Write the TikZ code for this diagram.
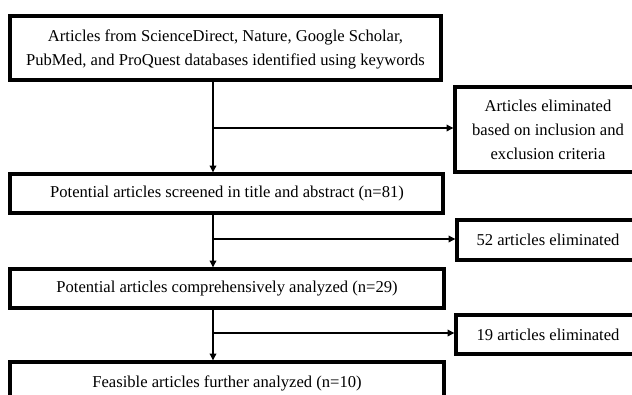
\documentclass[tikz,border=0pt]{standalone}
\usepackage{fontspec}
\setmainfont{Liberation Serif}
\usetikzlibrary{arrows.meta}
\begin{document}
\begin{tikzpicture}[x=1pt,y=-1pt,
  boxstyle/.style={draw=black,line width=3.2pt,fill=white},
  txt/.style={font=\fontsize{16.6}{24}\selectfont,align=center,inner sep=0pt},
  conn/.style={draw=black,line width=1.8pt},
  arr/.style={conn,-{Triangle[length=7pt,width=6.5pt]}}]
\useasboundingbox (0,0) rectangle (632,394);
\clip (0,0) rectangle (632,394);
% main boxes
\draw[boxstyle] (10,16) rectangle (441,80);
\node[txt] (a) at (225.5,49) {Articles from ScienceDirect, Nature, Google Scholar,\\PubMed, and ProQuest databases identified using keywords};
\draw[boxstyle] (10,174) rectangle (443,213);
\node[txt] (b) at (227,194) {Potential articles screened in title and abstract (n=81)};
\draw[boxstyle] (10,269) rectangle (444,308);
\node[txt] (c) at (227,289) {Potential articles comprehensively analyzed (n=29)};
\draw[boxstyle] (10,362) rectangle (444,410);
\node[txt] (d) at (227,383) {Feasible articles further analyzed (n=10)};
% side boxes
\draw[boxstyle] (455,87) rectangle (642,172);
\node[txt] (e) at (548,130) {Articles eliminated\\based on inclusion and\\exclusion criteria};
\draw[boxstyle] (457,220) rectangle (642,260);
\node[txt] (f) at (548,240) {52 articles eliminated};
\draw[boxstyle] (456,315) rectangle (642,354);
\node[txt] (g) at (548,335) {19 articles eliminated};
% anchors
\coordinate (a1) at (213,81.5);
\coordinate (b0) at (213,172.5);
\coordinate (b1) at (213,214.5);
\coordinate (c0) at (213,267.5);
\coordinate (c1) at (213,309.5);
\coordinate (d0) at (213,360.5);
\coordinate (j1) at (213,128);
\coordinate (j2) at (213,239);
\coordinate (j3) at (213,333);
\coordinate (e0) at (453.5,128);
\coordinate (f0) at (455.5,239);
\coordinate (g0) at (454.5,333);
\draw[arr] (a1) -- (b0);
\draw[arr] (b1) -- (c0);
\draw[arr] (c1) -- (d0);
\draw[arr] (j1) -- (e0);
\draw[arr] (j2) -- (f0);
\draw[arr] (j3) -- (g0);
\end{tikzpicture}
\end{document}
